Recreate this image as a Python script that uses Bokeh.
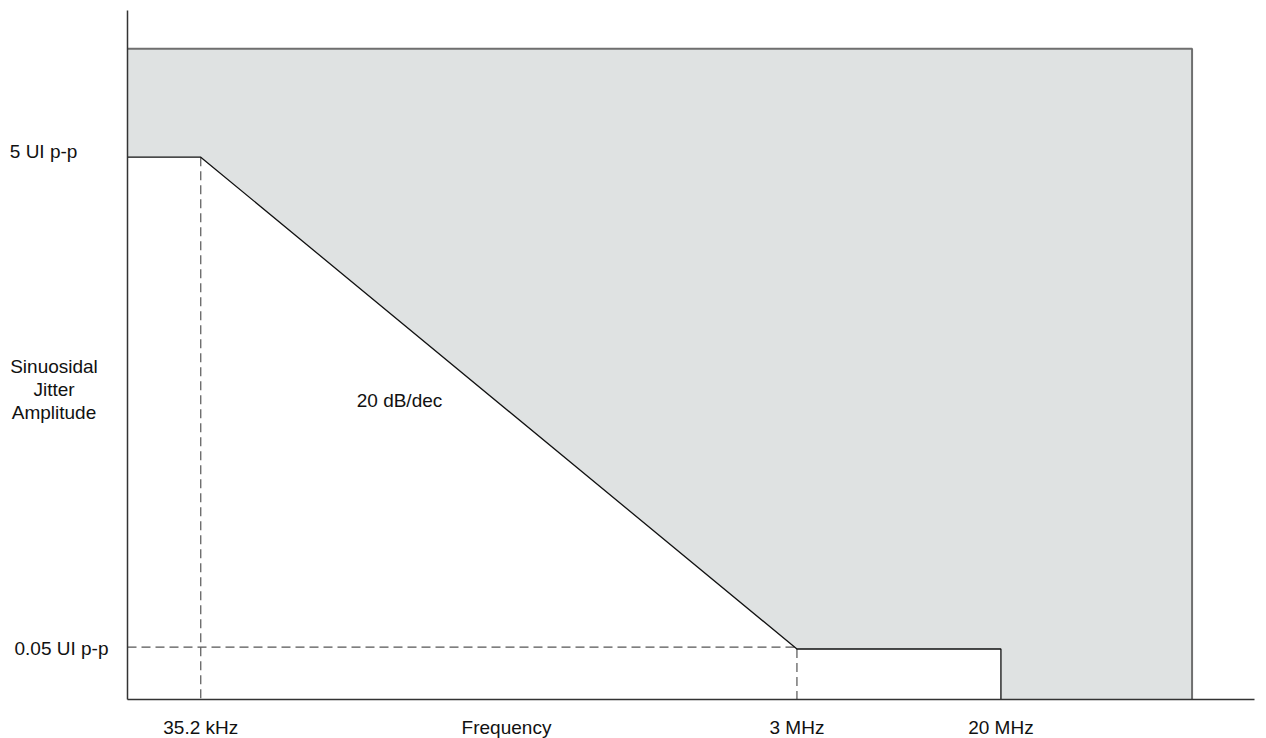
import math
from bokeh.plotting import figure
from bokeh.models import Range1d
from bokeh.core.properties import value
from bokeh.embed import file_html
from bokeh.resources import INLINE

# ---- data (schematic jitter-tolerance mask) ----
freq_labels = ["35.2 kHz", "3 MHz", "20 MHz"]
freq_pos = [6.5, 59.4, 77.5]          # schematic positions on the frequency axis
mask_right = 94.46                    # right end of the shaded region
x_max = 100.0                         # end of the frequency axis

amp_labels = ["5 UI p-p", "0.05 UI p-p"]
amp_values = [5.0, 0.05]
amp_ceiling = 13.8                    # top of the shaded region
y_axis_lo, y_axis_hi = 0.03115, 19.76 # extent of the amplitude axis (log)

y_title = ["Sinuosidal", "Jitter", "Amplitude"]
x_title = "Frequency"
slope_label = "20 dB/dec"

# ---- layout ----
W, H = 1266, 738
X0_PX = 127.0              # where x = 0 sits on the canvas
PX_PER_X = 11.27           # pixels per x unit
Y5_PX = 156.7              # where amplitude 5 sits
PX_PER_DEC = 245.9         # pixels per decade of amplitude

x_start = -X0_PX / PX_PER_X
x_end = (W - X0_PX) / PX_PER_X
y_top = 5 * 10 ** (Y5_PX / PX_PER_DEC)
y_bot = 5 * 10 ** (-(H - Y5_PX) / PX_PER_DEC)

def xp(px):   # canvas px -> x value
    return (px - X0_PX) / PX_PER_X

def yp(py):   # canvas px -> amplitude value
    return 5 * 10 ** (-(py - Y5_PX) / PX_PER_DEC)

FONT = value("Liberation Sans")
FS = value("19px")
TXT = "#111111"

p = figure(width=W, height=H, output_backend="svg", toolbar_location=None,
           x_range=Range1d(x_start, x_end), y_range=Range1d(y_bot, y_top),
           y_axis_type="log", x_axis_location=None, y_axis_location=None,
           min_border=0)
p.outline_line_color = None
p.grid.visible = False
p.background_fill_color = "white"
p.border_fill_color = "white"

f1, f2, f3 = freq_pos
a_hi, a_lo = amp_values

# shaded region
mask_x = [0, mask_right, mask_right, f3, f3, f2, f1, 0]
mask_y = [amp_ceiling, amp_ceiling, y_axis_lo, y_axis_lo, a_lo, a_lo, a_hi, a_hi]
p.patch(mask_x, mask_y, fill_color="#dfe2e2", line_color=None)

# dashed guides
DASH = dict(line_color="#555555", line_width=1.2, line_dash="9 5")
p.line([f1, f1], [a_hi, y_axis_lo], **DASH)
p.line([f2, f2], [a_lo, y_axis_lo], **DASH)
p.line([0, f2], [yp(646.7), yp(646.7)], **DASH)

# top and right edges of the region
p.line([0, mask_right, mask_right], [amp_ceiling, amp_ceiling, y_axis_lo],
       line_color="#6f6f6f", line_width=2)
# tolerance boundary
p.line([0, f1, f2, f3, f3], [a_hi, a_hi, a_lo, a_lo, y_axis_lo],
       line_color="#111111", line_width=1.3)

# axes
p.line([0, 0], [y_axis_lo, y_axis_hi], line_color="#333333", line_width=1.5)
p.line([0, x_max], [y_axis_lo, y_axis_lo], line_color="#333333", line_width=1.5)

def txt(x, y, t, align="center"):
    p.text(x=[x], y=[y], text=[t], text_font=FONT, text_font_size=FS,
           text_color=TXT, text_align=align, text_baseline="middle")

# amplitude labels
txt(xp(9.3), yp(150.5), amp_labels[0], align="left")
txt(xp(14.0), yp(647.5), amp_labels[1], align="left")

# amplitude title (three lines)
for i, t in enumerate(y_title):
    txt(xp(53.5), yp(366 + 23 * i), t)

# frequency labels
for pos, t in zip(freq_pos, freq_labels):
    txt(pos, yp(726.5), t)
txt(xp(506), yp(726.5), x_title)

# slope label
txt(xp(399), yp(400), slope_label)

open("out.html", "w").write(file_html(p, INLINE))
